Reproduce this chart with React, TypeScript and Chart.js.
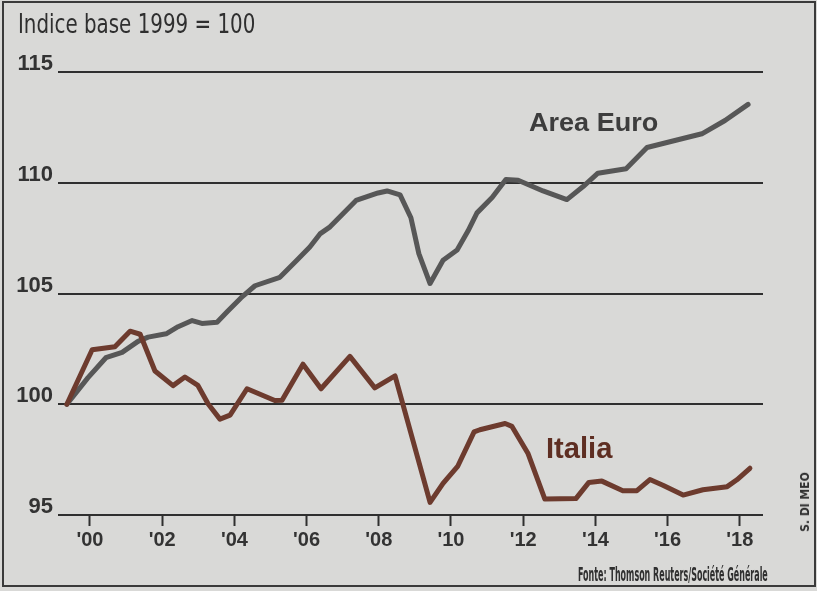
import React, { useEffect, useLayoutEffect, useRef, useState } from 'react';
import { Chart, registerables } from 'chart.js';

Chart.register(...registerables);

// ---- Data ----
const euroYears = [
  1999.36, 1999.94, 2000.44, 2000.89, 2001.33, 2001.61, 2002.11, 2002.44, 2002.83, 2003.10,
  2003.52, 2003.82, 2004.18, 2004.57, 2005.26, 2005.73, 2006.09, 2006.37, 2006.65, 2006.98,
  2007.37, 2007.98, 2008.23, 2008.59, 2008.89, 2009.11, 2009.42, 2009.78, 2010.17, 2010.47,
  2010.72, 2011.14, 2011.52, 2011.86, 2012.55, 2013.21, 2013.66, 2014.07, 2014.85, 2015.43,
  2016.23, 2016.95, 2017.59, 2018.23,
];
const euroValues = [
  100.0, 101.19, 102.1, 102.34, 102.84, 103.03, 103.18, 103.5, 103.78, 103.65,
  103.7, 104.21, 104.8, 105.35, 105.73, 106.5, 107.1, 107.69, 108.01, 108.56,
  109.2, 109.54, 109.63, 109.45, 108.42, 106.8, 105.45, 106.5, 106.96, 107.82,
  108.64, 109.33, 110.15, 110.11, 109.63, 109.24, 109.83, 110.43, 110.63, 111.59,
  111.92, 112.21, 112.81, 113.54,
];

const italiaYears = [
  1999.36, 2000.06, 2000.69, 2001.11, 2001.39, 2001.80, 2002.30, 2002.63, 2002.99, 2003.27,
  2003.60, 2003.88, 2004.35, 2005.12, 2005.32, 2005.90, 2006.40, 2007.20, 2007.89, 2008.45,
  2009.42, 2009.78, 2010.19, 2010.64, 2010.80, 2011.50, 2011.69, 2012.13, 2012.60, 2013.46,
  2013.82, 2014.18, 2014.76, 2015.15, 2015.51, 2015.87, 2016.43, 2016.98, 2017.65, 2017.92,
  2018.28,
];
const italiaValues = [
  100.0, 102.46, 102.6, 103.3, 103.16, 101.5, 100.84, 101.23, 100.85, 100.02,
  99.33, 99.51, 100.7, 100.17, 100.18, 101.81, 100.7, 102.16, 100.74, 101.28,
  95.57, 96.43, 97.21, 98.75, 98.85, 99.13, 99.0, 97.79, 95.72, 95.74,
  96.47, 96.53, 96.09, 96.1, 96.6, 96.34, 95.9, 96.14, 96.28, 96.59,
  97.11,
];

const yTickValues = [95, 100, 105, 110, 115];
const xTickValues = [2000, 2002, 2004, 2006, 2008, 2010, 2012, 2014, 2016, 2018];
const xTickLabels = ["'00", "'02", "'04", "'06", "'08", "'10", "'12", "'14", "'16", "'18"];

const titleText = 'Indice base 1999 = 100';
const euroLabel = 'Area Euro';
const italiaLabel = 'Italia';
const sourceText = 'Fonte: Thomson Reuters/Société Générale';
const signatureText = 'S. DI MEO';

// ---- Styles ----
const BG = '#d9d9d7';
const EURO_COLOR = '#575757';
const ITALIA_COLOR = '#6d3b2e';
const INK = '#2f2f2f';
const NARROW = "'Liberation Sans Narrow', 'DejaVu Sans Condensed', 'Liberation Sans', sans-serif";
const SANS = "'Liberation Sans', Arial, sans-serif";

function FitText(props: {
  text: string;
  left: number;
  top: number;
  width: number;
  font: string;
  color: string;
}) {
  const ref = useRef<HTMLSpanElement>(null);
  const [scale, setScale] = useState(1);
  useLayoutEffect(() => {
    const el = ref.current;
    if (el && el.offsetWidth > 0) setScale(props.width / el.offsetWidth);
  }, [props.text, props.width, props.font]);
  return (
    <span
      ref={ref}
      style={{
        position: 'absolute',
        left: props.left,
        top: props.top,
        whiteSpace: 'nowrap',
        font: props.font,
        color: props.color,
        transform: `scaleX(${scale})`,
        transformOrigin: '0 0',
      }}
    >
      {props.text}
    </span>
  );
}

export default function App() {
  const canvasRef = useRef<HTMLCanvasElement>(null);

  useLayoutEffect(() => {
    document.body.style.margin = '0';
    document.body.style.background = BG;
  }, []);

  useEffect(() => {
    if (!canvasRef.current) return;
    const chart = new Chart(canvasRef.current, {
      type: 'line',
      data: {
        datasets: [
          {
            label: italiaLabel,
            data: italiaYears.map((x, i) => ({ x, y: italiaValues[i] })),
            borderColor: ITALIA_COLOR,
            borderWidth: 5,
            pointRadius: 0,
            tension: 0,
            borderJoinStyle: 'round',
            borderCapStyle: 'round',
            order: 0,
          },
          {
            label: euroLabel,
            data: euroYears.map((x, i) => ({ x, y: euroValues[i] })),
            borderColor: EURO_COLOR,
            borderWidth: 5,
            pointRadius: 0,
            tension: 0,
            borderJoinStyle: 'round',
            borderCapStyle: 'round',
            order: 1,
          },
        ],
      },
      options: {
        responsive: false,
        animation: false,
        layout: { padding: { left: 0, right: 54, top: 72, bottom: 0 } },
        plugins: { legend: { display: false }, tooltip: { enabled: false } },
        scales: {
          x: {
            type: 'linear',
            min: 1999.114,
            max: 2018.643,
            afterBuildTicks: (s: any) => {
              s.ticks = xTickValues.map((v) => ({ value: v }));
            },
            afterFit: (s: any) => {
              s.height = 76;
            },
            grid: {
              drawOnChartArea: false,
              drawTicks: true,
              tickLength: 11,
              tickWidth: 2,
              tickColor: INK,
              color: INK,
            },
            border: { display: false },
            ticks: {
              autoSkip: false,
              maxRotation: 0,
              padding: 2,
              color: '#333333',
              font: { family: SANS, size: 20, weight: 'bold' },
              callback: (v: any) => {
                const i = xTickValues.indexOf(Number(v));
                return i >= 0 ? xTickLabels[i] : '';
              },
            },
          },
          y: {
            min: 95,
            max: 115,
            afterBuildTicks: (s: any) => {
              s.ticks = yTickValues.map((v) => ({ value: v }));
            },
            afterFit: (s: any) => {
              s.width = 58;
            },
            grid: { color: INK, lineWidth: 2, drawTicks: false },
            border: { display: false },
            ticks: {
              padding: 5,
              labelOffset: -8,
              color: '#333333',
              font: { family: SANS, size: 22, weight: 'bold' },
              callback: (v: any) => String(v),
            },
          },
        },
      },
    } as any);
    return () => chart.destroy();
  }, []);

  return (
    <div style={{ position: 'relative', width: 817, height: 591, background: BG, overflow: 'hidden' }}>
      <div
        style={{
          position: 'absolute',
          left: 2,
          top: 1,
          width: 810,
          height: 582,
          border: '2px solid #3a3a3a',
        }}
      />
      <canvas
        ref={canvasRef}
        width={817}
        height={591}
        style={{ position: 'absolute', left: 0, top: 0, width: 817, height: 591 }}
      />
      <FitText text={titleText} left={18} top={10} width={237} font={`27px/1 ${NARROW}`} color={INK} />
      <FitText text={euroLabel} left={529} top={109} width={129} font={`bold 26px/1 ${SANS}`} color="#3d3d3d" />
      <FitText text={italiaLabel} left={546} top={433} width={66} font={`bold 30px/1 ${SANS}`} color="#5e2e22" />
      <FitText text={sourceText} left={578} top={565} width={190} font={`bold 19px/1 ${NARROW}`} color={INK} />
      <div
        style={{
          position: 'absolute',
          left: 805,
          top: 502,
          transform: 'translate(-50%, -50%) rotate(-90deg)',
          whiteSpace: 'nowrap',
          font: `bold 12px/1 ${NARROW}`,
          color: INK,
        }}
      >
        {signatureText}
      </div>
    </div>
  );
}
